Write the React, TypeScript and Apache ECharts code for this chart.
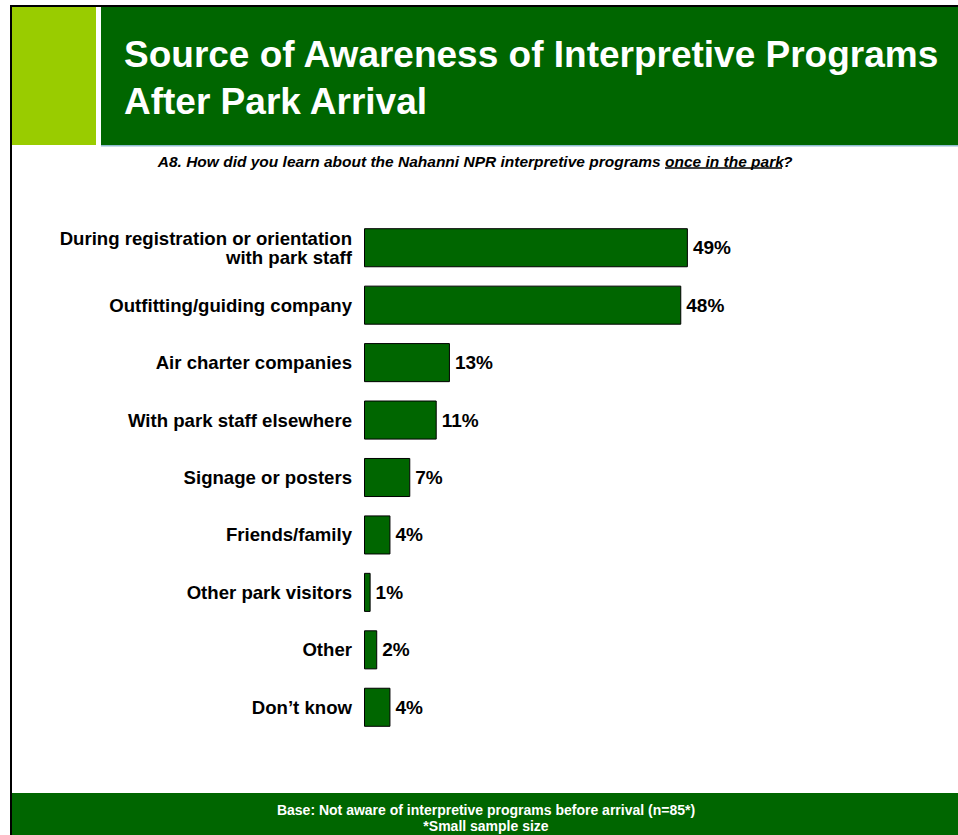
import React, { useEffect, useRef } from "react";
import * as echarts from "echarts";

const categories = [
  "During registration or orientation\nwith park staff",
  "Outfitting/guiding company",
  "Air charter companies",
  "With park staff elsewhere",
  "Signage or posters",
  "Friends/family",
  "Other park visitors",
  "Other",
  "Don\u2019t know",
];
const values = [49, 48, 13, 11, 7, 4, 1, 2, 4];

const titleLines = ["Source of Awareness of Interpretive Programs", "After Park Arrival"];
const subtitleMain = "A8. How did you learn about the Nahanni NPR interpretive programs ";
const subtitleUnderlined = "once in the park";
const subtitleEnd = "?";
const footerLines = ["Base: Not aware of interpretive programs before arrival (n=85*)", "*Small sample size"];

const DARK = "#006600";
const LIME = "#99cc00";
const FONT = "Arial, 'Liberation Sans', sans-serif";
const SUB_FONT = `italic bold 15.5px ${FONT}`;

export default function App() {
  const ref = useRef<HTMLDivElement>(null);
  useEffect(() => {
    if (!ref.current) return;
    const chart = echarts.init(ref.current, null, { renderer: "svg" });
    chart.setOption({
      animation: false,
      backgroundColor: "#ffffff",
      grid: { left: 364, top: 219, width: 396.6, height: 517, containLabel: false },
      xAxis: {
        type: "value",
        min: 0,
        max: 60,
        show: false,
      },
      yAxis: {
        type: "category",
        data: categories,
        inverse: true,
        axisLine: { show: false },
        axisTick: { show: false },
        axisLabel: {
          margin: 12,
          color: "#000",
          fontFamily: FONT,
          fontWeight: "bold",
          fontSize: 18.6,
          lineHeight: 19,
          align: "right",
        },
      },
      series: [
        {
          type: "bar",
          data: values,
          barCategoryGap: "32%",
          itemStyle: { color: DARK, borderColor: "#000", borderWidth: 1 },
          label: {
            show: true,
            position: "right",
            distance: 5,
            formatter: "{c}%",
            color: "#000",
            fontFamily: FONT,
            fontWeight: "bold",
            fontSize: 19,
          },
        },
      ],
      graphic: [
        { type: "rect", z: -10, shape: { x: 10, y: 5, width: 948, height: 2 }, style: { fill: "#000" } },
        { type: "rect", z: -10, shape: { x: 10, y: 5, width: 2, height: 830 }, style: { fill: "#000" } },
        { type: "rect", z: -10, shape: { x: 12, y: 7, width: 84, height: 138 }, style: { fill: LIME } },
        { type: "rect", z: -10, shape: { x: 101, y: 7, width: 857, height: 138 }, style: { fill: DARK } },
        { type: "rect", z: -10, shape: { x: 101, y: 145, width: 857, height: 1.5 }, style: { fill: "#8fbcd0" } },
        {
          type: "text",
          x: 124,
          y: 54,
          style: { text: titleLines[0], fill: "#fff", font: `bold 37px ${FONT}`, textVerticalAlign: "middle" },
        },
        {
          type: "text",
          x: 124,
          y: 101,
          style: { text: titleLines[1], fill: "#fff", font: `bold 37px ${FONT}`, textVerticalAlign: "middle" },
        },
        {
          type: "text",
          x: 665,
          y: 161,
          style: { text: subtitleMain, fill: "#000", font: SUB_FONT, textAlign: "right", textVerticalAlign: "middle" },
        },
        {
          type: "text",
          x: 665,
          y: 161,
          style: { text: subtitleUnderlined, fill: "#000", font: SUB_FONT, textAlign: "left", textVerticalAlign: "middle" },
        },
        {
          type: "text",
          x: 783,
          y: 161,
          style: { text: subtitleEnd, fill: "#000", font: SUB_FONT, textAlign: "left", textVerticalAlign: "middle" },
        },
        { type: "line", shape: { x1: 665, y1: 168, x2: 782, y2: 168 }, style: { stroke: "#000", lineWidth: 1.3 } },
        { type: "rect", z: -10, shape: { x: 12, y: 793, width: 946, height: 42 }, style: { fill: DARK } },
        {
          type: "text",
          x: 486,
          y: 810,
          style: { text: footerLines[0], fill: "#fff", font: `bold 14px ${FONT}`, textAlign: "center", textVerticalAlign: "middle" },
        },
        {
          type: "text",
          x: 486,
          y: 826,
          style: { text: footerLines[1], fill: "#fff", font: `bold 14px ${FONT}`, textAlign: "center", textVerticalAlign: "middle" },
        },
      ],
    });
    return () => chart.dispose();
  }, []);
  return <div ref={ref} style={{ position: "absolute", left: 0, top: 0, width: 958, height: 835 }} />;
}
